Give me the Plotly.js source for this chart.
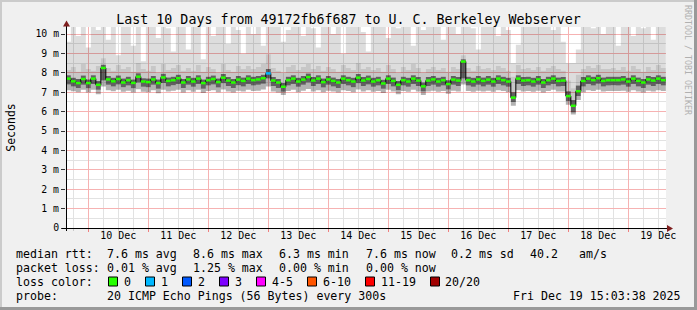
<!DOCTYPE html>
<html><head><meta charset="utf-8">
<script src="https://cdn.plot.ly/plotly-3.0.1.min.js"></script>
<style>html,body{margin:0;padding:0;background:#f0f0f0;}#chart{width:697px;height:310px;}</style>
</head><body><div id="chart"></div>
<script>
// ---- data (2-hour consolidated steps starting 2025-12-09 15:00) ----
const startTime = '2025-12-09T15:00:00Z';
const stepHours = 2;
const medianRtt = [
7.70,7.56,7.47,7.68,7.47,7.70,7.38,8.25,7.66,7.56,7.68,7.50,
7.62,7.48,7.80,7.55,7.52,7.66,7.47,7.76,7.58,7.62,7.72,7.50,
7.66,7.55,7.70,7.47,7.62,7.68,7.52,7.75,7.60,7.50,7.65,7.58,
7.70,7.62,7.66,7.72,7.97,7.60,7.50,7.28,7.62,7.70,7.55,7.65,
7.78,7.60,7.70,7.52,7.66,7.58,7.50,7.70,7.62,7.55,7.75,7.60,
7.68,7.55,7.62,7.45,7.70,7.58,7.38,7.62,7.55,7.70,7.60,7.30,
7.60,7.66,7.55,7.62,7.42,7.65,7.60,8.58,7.62,7.55,7.66,7.58,
7.65,7.55,7.70,7.62,7.55,6.72,7.70,7.60,7.62,7.55,7.66,7.50,
7.62,7.70,7.58,7.60,6.80,6.30,7.05,7.58,7.70,7.62,7.72,7.58,
7.62,7.62,7.62,7.66,7.55,7.70,7.58,7.50,7.66,7.60,7.70,7.62];
const smokeMin = [
7.10,7.05,7.00,7.12,6.98,7.12,6.90,7.30,7.10,7.05,7.12,7.02,
7.08,6.98,7.15,7.02,7.00,7.10,6.95,7.12,7.04,7.08,7.12,6.98,
7.10,7.02,7.12,6.96,7.06,7.10,7.00,7.14,7.04,6.98,7.08,7.04,
7.12,7.06,7.08,7.14,7.30,7.04,6.98,6.85,7.06,7.12,7.00,7.08,
7.16,7.04,7.10,7.00,7.08,7.04,6.98,7.10,7.06,7.00,7.14,7.04,
7.10,7.02,7.06,6.96,7.12,7.04,6.90,7.06,7.02,7.12,7.04,6.86,
7.04,7.08,7.02,7.06,6.92,7.08,7.04,7.40,7.06,7.02,7.08,7.04,
7.08,7.02,7.10,7.06,7.00,6.30,7.10,7.04,7.06,7.02,7.08,6.98,
7.06,7.12,7.04,7.04,6.35,5.85,6.60,7.00,7.10,7.06,7.12,7.04,
7.06,7.06,7.06,7.08,7.02,7.10,7.04,6.98,7.08,7.04,7.10,7.06];
const smokeLo = [
7.40,7.30,7.22,7.38,7.20,7.42,7.12,7.60,7.38,7.30,7.40,7.25,
7.35,7.20,7.50,7.28,7.25,7.38,7.18,7.48,7.30,7.36,7.42,7.22,
7.38,7.28,7.42,7.18,7.34,7.40,7.24,7.46,7.32,7.22,7.36,7.30,
7.42,7.34,7.38,7.44,7.70,7.32,7.22,7.02,7.34,7.42,7.28,7.38,
7.50,7.32,7.42,7.24,7.38,7.30,7.22,7.42,7.34,7.26,7.46,7.32,
7.40,7.28,7.34,7.18,7.42,7.30,7.10,7.34,7.28,7.42,7.32,7.04,
7.32,7.38,7.28,7.34,7.14,7.38,7.32,7.70,7.34,7.28,7.38,7.30,
7.38,7.28,7.42,7.34,7.28,6.50,7.42,7.32,7.34,7.28,7.38,7.22,
7.34,7.42,7.30,7.32,6.55,5.95,6.80,7.30,7.42,7.34,7.44,7.30,
7.34,7.36,7.34,7.38,7.28,7.42,7.30,7.22,7.38,7.32,7.42,7.34];
const smokeHi = [
7.88,7.75,7.68,7.86,7.66,7.88,7.58,8.42,7.84,7.74,7.86,7.70,
7.80,7.66,7.98,7.72,7.70,7.84,7.66,7.95,7.76,7.80,7.90,7.68,
7.84,7.74,7.88,7.66,7.80,7.86,7.70,7.94,7.78,7.68,7.84,7.76,
7.88,7.80,7.84,7.90,8.20,7.78,7.68,7.48,7.80,7.88,7.74,7.84,
7.96,7.78,7.88,7.70,7.84,7.76,7.68,7.88,7.80,7.74,7.94,7.78,
7.86,7.74,7.80,7.64,7.88,7.76,7.58,7.80,7.74,7.88,7.78,7.50,
7.78,7.84,7.74,7.80,7.62,7.84,7.78,8.70,7.80,7.74,7.84,7.76,
7.84,7.74,7.88,7.80,7.74,7.00,7.88,7.78,7.80,7.74,7.84,7.68,
7.80,7.88,7.76,7.78,7.05,6.60,7.35,7.78,7.88,7.80,7.90,7.76,
7.80,7.80,7.80,7.84,7.74,7.88,7.76,7.68,7.84,7.78,7.88,7.80];
const smokeMid = [
8.15,8.30,8.05,8.45,8.20,8.10,8.35,8.75,8.25,8.10,8.40,8.20,
8.30,8.05,8.50,8.20,8.10,8.35,8.00,8.45,8.15,8.25,8.40,8.10,
8.25,8.10,8.40,8.05,8.30,8.20,8.00,8.45,8.15,8.05,8.35,8.20,
8.35,8.20,8.30,8.45,8.95,8.25,8.10,8.00,8.30,8.40,8.15,8.30,
8.45,8.20,8.35,8.10,8.30,8.20,8.05,8.40,8.25,8.15,8.50,8.20,
8.30,8.15,8.25,8.05,8.40,8.20,8.00,8.30,8.15,8.45,8.25,8.00,
8.20,8.30,8.15,8.25,8.05,8.30,8.20,8.90,8.25,8.10,8.35,8.20,
8.25,8.15,8.35,8.25,8.10,7.80,8.40,8.20,8.25,8.15,8.30,8.10,
8.25,8.35,8.20,8.10,7.60,7.20,7.90,8.20,8.35,8.25,8.40,8.20,
8.20,8.25,8.15,8.30,8.10,8.35,8.20,8.05,8.30,8.15,8.40,8.25];
const smokeMax = [
9.60,10.80,9.90,10.50,9.30,10.90,10.20,11.00,9.70,10.80,8.90,10.60,
10.70,9.40,10.90,8.60,10.40,10.80,9.80,11.00,10.30,9.10,10.70,10.50,
9.20,10.80,10.40,8.70,10.90,9.90,10.60,11.00,9.50,10.70,10.20,9.00,
10.60,10.00,10.90,9.40,11.00,10.50,10.80,9.60,10.20,10.90,10.40,9.90,
10.80,10.30,9.30,10.90,10.60,10.00,10.70,9.00,10.90,10.40,10.80,10.10,
9.10,10.80,10.50,10.90,9.80,10.70,10.30,10.90,10.60,9.40,10.80,10.20,
10.90,10.40,10.80,9.70,10.60,10.90,10.00,11.00,10.70,10.30,9.20,10.80,
10.50,10.90,9.90,10.70,10.20,8.50,9.45,10.80,10.60,10.90,10.40,10.70,
10.80,10.20,10.90,9.60,8.50,8.50,9.20,10.60,10.90,10.30,10.80,10.00,
10.90,10.40,9.40,10.80,10.60,9.90,10.90,10.30,10.70,9.70,10.80,10.50];
const lossPct = [
0,0,0,0,0,0,0,0,0,0,0,0, 0,0,0,0,0,0,0,0,0,0,0,0,
0,0,0,0,0,0,0,0,0,0,0,0, 0,0,0,0,5,0,0,0,0,0,0,0,
0,0,0,0,0,0,0,0,0,0,0,0, 0,0,0,0,0,0,0,0,0,0,0,0,
0,0,0,0,0,0,0,0,0,0,0,0, 0,0,0,0,0,0,0,0,0,0,0,0,
0,0,0,0,0,0,0,0,0,0,0,0, 0,0,0,0,0,0,0,0,0,0,0,0];
const yTickVals = [0,1,2,3,4,5,6,7,8,9,10];
const yTickText = ['0','1 m','2 m','3 m','4 m','5 m','6 m','7 m','8 m','9 m','10 m'];
const dayLabels = ['10 Dec','11 Dec','12 Dec','13 Dec','14 Dec','15 Dec','16 Dec','17 Dec','18 Dec','19 Dec'];
const lossLabels = ['0','1','2','3','4-5','6-10','11-19','20/20'];
const lossColors = ['#26ff00','#00b8ff','#0059ff','#7e00ff','#ff00ff','#ff5500','#ff0000','#a10000'];
const rttStats = ['7.6 ms avg','8.6 ms max','6.3 ms min','7.6 ms now','0.2 ms sd','40.2','am/s'];
const lossStats = ['0.01 % avg','1.25 % max','0.00 % min','0.00 % now'];
const probeText = '20 ICMP Echo Pings (56 Bytes) every 300s';
const stampText = 'Fri Dec 19 15:03:38 2025';
const titleText = 'Last 10 Days from 49172fb6f687 to U. C. Berkeley Webserver';

// ---- helpers ----
const MONO = 'DejaVu Sans Mono';
const H = 3600e3;
const t0 = Date.parse(startTime);
const fmt = ms => new Date(ms).toISOString().replace('T',' ').slice(0,19);
const n = medianRtt.length;
const tEdges = Array.from({length:n+1},(_,i)=>fmt(t0 + i*stepHours*H));
const tMid = Array.from({length:n},(_,i)=>fmt(t0 + (i+0.5)*stepHours*H));
const ext = a => a.concat([a[a.length-1]]);
function lossBucket(p){const c=Math.round(p/100*20); if(c<=3) return c; if(c<=5) return 4; if(c<=10) return 5; if(c<=19) return 6; return 7;}
const day0 = Date.parse('2025-12-10T00:00:00Z');
const xRange = ['2025-12-09 15:04','2025-12-19 15:04'];
const noons = dayLabels.map((_,k)=>fmt(day0 + (k*24+12)*H));

const bands = [
  {y:smokeMin, fill:null},
  {y:smokeLo,  fill:'rgba(0,0,0,0.30)'},
  {y:smokeHi,  fill:'rgba(0,0,0,0.62)'},
  {y:smokeMid, fill:'rgba(0,0,0,0.22)'},
  {y:smokeMax, fill:'rgba(0,0,0,0.135)'}
];
const traces = bands.map(b=>({
  type:'scatter', mode:'lines', x:tEdges, y:ext(b.y),
  line:{shape:'hv', width:0, color:'rgba(0,0,0,0)'},
  fill: b.fill ? 'tonexty' : 'none', fillcolor: b.fill || undefined,
  hoverinfo:'skip', showlegend:false
}));
traces.push({type:'scatter', mode:'lines', x:tEdges, y:ext(medianRtt),
  line:{shape:'hv', width:1, color:'#000'}, hoverinfo:'skip', showlegend:false});
traces.push({type:'scatter', mode:'markers', x:tMid, y:medianRtt, xaxis:'x2',
  marker:{symbol:'line-ew', size:3.5, line:{width:2.5, color:lossPct.map(p=>lossColors[lossBucket(p)])}},
  hoverinfo:'skip', showlegend:false});

// ---- layout geometry (pixels -> paper) ----
const L=66, T=27, PW=600, PH=201;
const X = px => (px - L)/PW;
const Y = py => (T + PH - py)/PH;

const shapes = [];
const ann = [];
shapes.push({type:'rect',xref:'paper',yref:'paper',x0:X(0),x1:X(697),y0:Y(0),y1:Y(2),fillcolor:'#cbcbcb',line:{width:0}});
shapes.push({type:'rect',xref:'paper',yref:'paper',x0:X(0),x1:X(2),y0:Y(0),y1:Y(310),fillcolor:'#cbcbcb',line:{width:0}});
shapes.push({type:'rect',xref:'paper',yref:'paper',x0:X(0),x1:X(697),y0:Y(307),y1:Y(310),fillcolor:'#999999',line:{width:0}});
shapes.push({type:'rect',xref:'paper',yref:'paper',x0:X(694),x1:X(697),y0:Y(0),y1:Y(310),fillcolor:'#999999',line:{width:0}});
shapes.push({type:'line',xref:'paper',yref:'paper',x0:X(62),x1:X(668),y0:Y(228.5),y1:Y(228.5),line:{color:'#000',width:1}});
shapes.push({type:'line',xref:'paper',yref:'paper',x0:X(66.5),x1:X(66.5),y0:Y(231),y1:Y(24),line:{color:'#000',width:1}});
shapes.push({type:'path',xref:'paper',yref:'paper',
  path:`M${X(63)},${Y(26.5)} L${X(66.5)},${Y(20.5)} L${X(70)},${Y(26.5)} Z`,fillcolor:'#7f1f1f',line:{width:0}});
shapes.push({type:'path',xref:'paper',yref:'paper',
  path:`M${X(667)},${Y(225)} L${X(673)},${Y(228.5)} L${X(667)},${Y(232)} Z`,fillcolor:'#7f1f1f',line:{width:0}});

function txt(px, py, s, extra){ ann.push(Object.assign({xref:'paper',yref:'paper',x:X(px),y:Y(py),text:s,showarrow:false,
  xanchor:'left',yanchor:'middle',borderpad:0,borderwidth:0,font:{family:MONO,size:11.6,color:'#000'}},extra||{})); }
const CW = 7.0;
txt(15.5,254.3,'median rtt:');
const rttX=[106.5,192.5,278.5,365.5,451,530,578.5];
rttStats.forEach((s,k)=>txt(rttX[k],254.3,s));
txt(15.5,268.3,'packet loss:');
lossStats.forEach((s,k)=>txt(rttX[k],268.3,s));
txt(15.5,281.7,'loss color:');
let bx = 108.5;
lossLabels.forEach((lab,k)=>{
  shapes.push({type:'rect',xref:'paper',yref:'paper',x0:X(bx),x1:X(bx+9),y0:Y(286),y1:Y(277),fillcolor:lossColors[k],line:{color:'#000',width:1}});
  txt(bx+15,281.7,lab);
  bx += 30 + CW*lab.length;
});
txt(15.5,296,'probe:');
txt(106.5,296,probeText);
txt(512.8,296,stampText);
ann.push({xref:'paper',yref:'paper',x:X(688),y:Y(60),text:'RRDTOOL / TOBI OETIKER',showarrow:false,textangle:90,
  xanchor:'center',yanchor:'middle',font:{family:MONO,size:8.3,color:'#b0b0b0'}});

const MAJOR = '#f6b2b2', MINOR = '#e2e2e2';
const layout = {
  width:697, height:310, autosize:false,
  margin:{l:L, r:697-L-PW, t:T, b:310-T-PH, pad:0},
  paper_bgcolor:'#f0f0f0', plot_bgcolor:'#ffffff',
  showlegend:false,
  title:{text:titleText, font:{family:MONO,size:13.3,color:'#000'}, x:0.5, xref:'container', xanchor:'center', y:1-19/310, yref:'container', yanchor:'middle'},
  xaxis:{type:'date', range:xRange,
    tickmode:'linear', tick0:'2025-12-10', dtick:86400000, showticklabels:false,
    ticks:'outside', ticklen:3, tickcolor:'#f08080',
    showgrid:true, gridcolor:MAJOR, gridwidth:1,
    minor:{dtick:21600000, showgrid:true, gridcolor:MINOR, ticks:'outside', ticklen:2, tickcolor:'#c8c8c8'},
    zeroline:false},
  xaxis2:{type:'date', range:xRange, overlaying:'x', anchor:'y', side:'bottom',
    tickmode:'array', tickvals:noons, ticktext:dayLabels, ticks:'', showgrid:false, zeroline:false, showline:false,
    tickfont:{family:MONO,size:10,color:'#000'}},
  yaxis:{range:[0,PH/19.4], tickmode:'array', tickvals:yTickVals, ticktext:yTickText,
    ticks:'outside', ticklen:4, tickcolor:'#333',
    showgrid:true, gridcolor:MAJOR,
    minor:{tickmode:'array', tickvals:[0.5,1.5,2.5,3.5,4.5,5.5,6.5,7.5,8.5,9.5], showgrid:true, gridcolor:MINOR},
    zeroline:false, tickfont:{family:MONO,size:9.8,color:'#000'},
    title:{text:'Seconds', font:{family:MONO,size:11.5,color:'#000'}, standoff:17}, automargin:false},
  shapes:shapes, annotations:ann
};
Plotly.newPlot('chart', traces, layout, {staticPlot:true, displayModeBar:false});
</script></body></html>
